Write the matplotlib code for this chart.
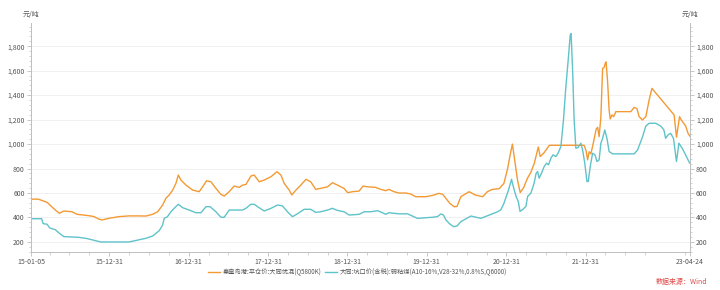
import matplotlib
matplotlib.use("Agg")
import matplotlib.pyplot as plt
import matplotlib.dates as mdates
from matplotlib.ticker import MultipleLocator, FuncFormatter
import pandas as pd

plt.rcParams['font.family'] = ['Noto Sans CJK SC', 'DejaVu Sans']

# 秦皇岛港:平仓价:大同优混(Q5800K)
qhd_dates = [
    '2015-01-05', '2015-02-08', '2015-03-20', '2015-04-27', '2015-05-16', '2015-06-05',
    '2015-07-13', '2015-08-05', '2015-09-28', '2015-10-21', '2015-11-16', '2015-11-28',
    '2015-12-29', '2016-02-13', '2016-03-31', '2016-05-16', '2016-06-17', '2016-07-18',
    '2016-08-10', '2016-09-02', '2016-09-17', '2016-10-02', '2016-10-18', '2016-11-02',
    '2016-11-13', '2016-11-25', '2016-12-18', '2017-01-18', '2017-02-17', '2017-03-05',
    '2017-03-23', '2017-04-12', '2017-05-05', '2017-05-28', '2017-06-12', '2017-07-05',
    '2017-07-28', '2017-08-20', '2017-09-05', '2017-09-20', '2017-10-13', '2017-10-28',
    '2017-11-20', '2017-12-13', '2018-01-13', '2018-02-10', '2018-02-28', '2018-03-15',
    '2018-04-07', '2018-04-19', '2018-05-08', '2018-05-31', '2018-06-23', '2018-07-15',
    '2018-08-07', '2018-08-30', '2018-10-01', '2018-10-23', '2018-11-15', '2018-12-15',
    '2019-01-01', '2019-01-24', '2019-02-23', '2019-03-13', '2019-04-02', '2019-05-10',
    '2019-06-02', '2019-06-25', '2019-07-10', '2019-08-02', '2019-08-25', '2019-09-25',
    '2019-10-18', '2019-11-10', '2019-12-26', '2020-01-26', '2020-02-25', '2020-03-13',
    '2020-03-28', '2020-04-15', '2020-05-05', '2020-05-18', '2020-06-05', '2020-07-13',
    '2020-08-10', '2020-09-13', '2020-10-05', '2020-10-28', '2020-11-28', '2020-12-20',
    '2021-01-06', '2021-01-18', '2021-01-28', '2021-02-08', '2021-02-21', '2021-03-05',
    '2021-03-21', '2021-04-07', '2021-04-23', '2021-05-09', '2021-05-27', '2021-06-05',
    '2021-06-23', '2021-07-17', '2021-12-24', '2022-01-02', '2022-01-09', '2022-01-16',
    '2022-01-24', '2022-02-04', '2022-02-17', '2022-02-24', '2022-03-03', '2022-03-11',
    '2022-03-19', '2022-03-26', '2022-03-31', '2022-04-04', '2022-04-11', '2022-04-18',
    '2022-04-23', '2022-05-01', '2022-05-09', '2022-05-19', '2022-07-27', '2022-08-11',
    '2022-08-24', '2022-09-03', '2022-09-18', '2022-10-04', '2022-10-19', '2022-11-01',
    '2023-02-11', '2023-02-22', '2023-03-01', '2023-03-08', '2023-03-16', '2023-04-05',
    '2023-04-16', '2023-04-24',
]
qhd_price = [
    550, 550, 524, 461, 434, 453,
    447, 426, 415, 408, 385, 380,
    393, 407, 413, 413, 412, 426,
    447, 502, 557, 584, 624, 679,
    747, 706, 665, 624, 611, 651,
    700, 692, 638, 589, 575, 611,
    657, 646, 665, 670, 739, 747,
    692, 706, 733, 774, 747, 679,
    624, 584, 624, 665, 712, 692,
    630, 638, 651, 684, 665, 638,
    603, 611, 616, 657, 651, 646,
    630, 619, 630, 611, 600, 600,
    592, 570, 570, 580, 597, 590,
    557, 516, 488, 490, 570, 611,
    584, 570, 611, 630, 635, 679,
    800, 915, 1000, 860, 700, 604,
    645, 720, 770, 844, 976, 898,
    930, 990, 990, 945, 871, 937,
    920, 1006, 1120, 1137, 1061, 1220,
    1618, 1626, 1659, 1672, 1509, 1278,
    1205, 1238, 1224, 1265, 1265, 1300,
    1290, 1224, 1197, 1224, 1360, 1455,
    1238, 1056, 1142, 1224, 1197, 1148,
    1088, 1066,
]

# 大同:坑口价(含税):弱粘煤(A10-16%,V28-32%,0.8%S,Q6000)
dt_dates = [
    '2015-01-05', '2015-02-23', '2015-03-02', '2015-03-20', '2015-04-01', '2015-04-27',
    '2015-05-16', '2015-06-05', '2015-08-13', '2015-09-20', '2015-10-28', '2015-11-22',
    '2016-03-31', '2016-05-02', '2016-06-17', '2016-07-18', '2016-08-17', '2016-09-02',
    '2016-09-09', '2016-09-24', '2016-10-10', '2016-10-25', '2016-11-13', '2016-12-03',
    '2017-01-02', '2017-02-02', '2017-02-25', '2017-03-20', '2017-04-08', '2017-05-05',
    '2017-05-28', '2017-06-12', '2017-07-05', '2017-09-05', '2017-09-20', '2017-10-13',
    '2017-10-28', '2017-11-13', '2017-12-13', '2018-01-13', '2018-02-13', '2018-03-07',
    '2018-03-30', '2018-04-22', '2018-05-15', '2018-06-15', '2018-07-15', '2018-08-07',
    '2018-08-30', '2018-10-01', '2018-10-23', '2018-11-15', '2018-12-15', '2019-01-08',
    '2019-02-23', '2019-03-18', '2019-04-18', '2019-05-18', '2019-06-10', '2019-06-25',
    '2019-07-10', '2019-08-25', '2019-10-03', '2019-10-26', '2019-11-18', '2020-01-26',
    '2020-02-18', '2020-03-05', '2020-03-17', '2020-03-28', '2020-04-15', '2020-05-03',
    '2020-05-18', '2020-06-05', '2020-07-21', '2020-09-05', '2020-10-13', '2020-11-21',
    '2020-12-06', '2020-12-20', '2021-01-10', '2021-01-24', '2021-02-03', '2021-02-14',
    '2021-02-24', '2021-03-04', '2021-03-15', '2021-03-31', '2021-04-08', '2021-04-23',
    '2021-05-08', '2021-05-17', '2021-05-24', '2021-05-31', '2021-06-11', '2021-06-23',
    '2021-07-04', '2021-07-13', '2021-07-24', '2021-08-03', '2021-08-16', '2021-08-26',
    '2021-09-08', '2021-09-20', '2021-10-01', '2021-10-13', '2021-10-21', '2021-10-25',
    '2021-11-01', '2021-11-08', '2021-11-16', '2021-11-26', '2021-12-09', '2021-12-17',
    '2021-12-27', '2022-01-06', '2022-01-12', '2022-01-21', '2022-02-01', '2022-02-12',
    '2022-02-21', '2022-03-03', '2022-03-11', '2022-03-19', '2022-03-29', '2022-04-08',
    '2022-04-18', '2022-05-04', '2022-08-11', '2022-08-27', '2022-09-19', '2022-10-04',
    '2022-10-19', '2022-11-18', '2022-12-11', '2022-12-26', '2023-01-03', '2023-01-14',
    '2023-01-26', '2023-02-08', '2023-02-22', '2023-03-05', '2023-03-20', '2023-04-05',
    '2023-04-16', '2023-04-24',
]
dt_price = [
    390, 390, 350, 345, 315, 300,
    271, 244, 238, 228, 211, 200,
    200, 212, 230, 249, 292, 339,
    393, 407, 447, 475, 508, 480,
    461, 439, 439, 488, 488, 447,
    402, 402, 461, 461, 475, 508,
    508, 488, 453, 475, 502, 495,
    447, 407, 430, 467, 467, 442,
    447, 461, 475, 458, 447, 420,
    426, 447, 447, 456, 439, 426,
    439, 430, 430, 412, 393, 402,
    407, 429, 420, 380, 347, 325,
    330, 366, 412, 393, 420, 447,
    463, 516, 624, 712, 640, 572,
    531, 450, 463, 490, 572, 599,
    681, 760, 776, 721, 762, 816,
    844, 830, 884, 912, 898, 925,
    979, 1197, 1469, 1713, 1890, 1903,
    1604, 1197, 966, 971, 1007, 952,
    844, 694, 694, 816, 925, 912,
    857, 871, 1007, 1047, 1115, 1047,
    939, 920, 920, 952, 1061, 1148,
    1170, 1170, 1148, 1115, 1047, 1075,
    1088, 1047, 857, 1007, 966, 912,
    871, 844,
]

tick_dates = ['2015-01-05', '2015-12-31', '2016-12-31', '2017-12-31', '2018-12-31',
              '2019-12-31', '2020-12-31', '2021-12-31', '2023-04-24']

orange = '#F39A34'
teal = '#5FC3C9'
axis_grey = '#BFBFBF'
text_grey = '#555555'

fig = plt.figure(figsize=(7.2, 2.9), dpi=100)
ax = fig.add_axes([0.043, 0.131, 0.915, 0.790])

ax.plot(pd.to_datetime(qhd_dates), qhd_price, color=orange, lw=1.0,
        label='秦皇岛港:平仓价:大同优混(Q5800K)')
ax.plot(pd.to_datetime(dt_dates), dt_price, color=teal, lw=1.0,
        label='大同:坑口价(含税):弱粘煤(A10-16%,V28-32%,0.8%S,Q6000)')

ax.set_xlim(pd.Timestamp('2015-01-05'), pd.Timestamp('2023-04-24'))
ax.set_ylim(118, 1990)

# y axis, labels on both sides
ax.set_yticks([200, 400, 600, 800, 1000, 1200, 1400, 1600, 1800])
ax.yaxis.set_minor_locator(MultipleLocator(40))
ax.yaxis.set_major_formatter(FuncFormatter(lambda v, p: f'{int(v):,}'))
ax.yaxis.set_ticks_position('both')
ax.tick_params(axis='y', which='both', direction='out', labelright=True, labelleft=True,
               colors=axis_grey, labelcolor=text_grey, labelsize=5, pad=1.5)
ax.tick_params(axis='y', which='major', length=3, width=0.6)
ax.tick_params(axis='y', which='minor', length=1.5, width=0.5)

# x axis
ax.set_xticks(pd.to_datetime(tick_dates))
ax.xaxis.set_major_formatter(mdates.DateFormatter('%y-%m-%d'))
ax.xaxis.set_minor_locator(mdates.MonthLocator(bymonth=[4, 7, 10]))
ax.tick_params(axis='x', which='both', direction='out', colors=axis_grey,
               labelcolor=text_grey, labelsize=5, pad=1.5)
ax.tick_params(axis='x', which='major', length=3, width=0.6)
ax.tick_params(axis='x', which='minor', length=2, width=0.5)

ax.grid(axis='y', which='major', color='#EEEEEE', lw=0.6)
ax.set_axisbelow(True)
for side in ['left', 'right', 'bottom']:
    ax.spines[side].set_color(axis_grey)
    ax.spines[side].set_linewidth(0.7)
ax.spines['top'].set_visible(False)

fig.text(0.043, 0.935, '元/吨', fontsize=5, color=text_grey, ha='center', va='bottom')
fig.text(0.958, 0.935, '元/吨', fontsize=5, color=text_grey, ha='center', va='bottom')

fig.legend(loc='center', bbox_to_anchor=(0.497, 0.062), ncol=2, frameon=False,
           fontsize=4.5, handlelength=1.8, handletextpad=0.5, columnspacing=0.6,
           labelcolor=text_grey)

fig.text(0.982, 0.027, '数据来源：Wind', fontsize=5, color='#E04848', ha='right', va='center')

fig.savefig('out.png', dpi=100)
